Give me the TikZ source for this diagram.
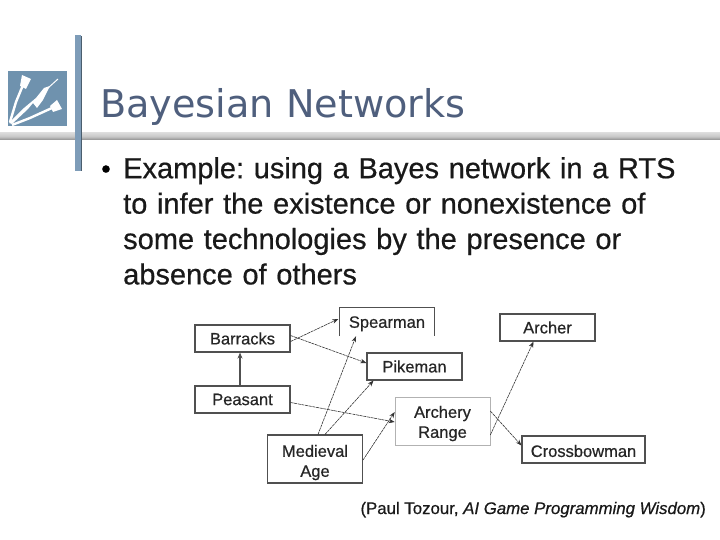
\documentclass[tikz,border=0pt]{standalone}
\usepackage{fontspec}
\setmainfont{Liberation Sans}[RawFeature={embolden=0.6}]
\newfontfamily\titlefont{DejaVu Sans}
\usetikzlibrary{arrows.meta,calc}
\definecolor{steel}{HTML}{6F92AE}
\definecolor{barblue}{HTML}{7E9CB8}
\definecolor{titleblue}{HTML}{4F5F7D}
\definecolor{boxline}{HTML}{505050}
\tikzset{
  netbox/.style={draw=boxline,line width=1.1pt,fill=white,minimum width=95pt,minimum height=27pt,inner sep=0pt,align=center,font=\fontsize{16.5}{20}\selectfont,text=black!85},
  netlink/.style={-{Stealth[length=6pt,width=4.5pt]},line width=0.6pt,black!80,dash pattern=on 3pt off 0.7pt},
  solidlink/.style={-{Stealth[length=6pt,width=5pt]},line width=1.5pt,boxline},
}
\frenchspacing
\begin{document}
\begin{tikzpicture}[x=1pt,y=-1pt]
\useasboundingbox (0,0) rectangle (720,540);
% horizontal bar
\shade[top color=black!15,bottom color=black!45,middle color=black!22] (0,133) rectangle (720,140);
% logo
\fill[steel] (8,71) rectangle (67,126);
\fill[white] (22,75) -- (31,79) -- (26,89) -- (20,86) -- cycle;
\draw[white,line width=2.4pt] (23,85) -- (16,102) -- (10,122);
\draw[white,line width=1pt] (58,79) -- (48,88);
\fill[white] (50,86) -- (44,88) -- (36,98) -- (24,108) -- (9,123) -- (12,124) -- (28,109) -- (33,103) -- (37,108) -- (43,100) -- cycle;
\fill[white] (57,100) -- (62,109) -- (53,112) -- (50,106) -- cycle;
\draw[white,line width=2.4pt] (52,108) -- (30,118) -- (12,125);
% vertical bar
\fill[barblue] (75,35) rectangle (81,171);
\draw[barblue!60!black,line width=0.8pt] (81,36) -- (81,171);
% title
\node[anchor=base west,inner sep=0pt,text=titleblue,font=\titlefont\fontsize{38.2}{39}\selectfont] (title) at (100,118) {Bayesian Networks};
% bullet and body
\node[anchor=base,inner sep=0pt,font=\fontsize{27}{27}\selectfont] (bullet) at (106,178) {•};
\node[anchor=north west,inner sep=0pt,text width=590pt,align=left,font=\fontsize{29}{35.4}\selectfont,text=black!90] (body) at (123,157) {Example: using a Bayes network in a RTS\\to infer the existence or nonexistence of\\some technologies by the presence or\\absence of others};
% nodes
\node[netbox] (barracks) at (242.5,338.5) {Barracks};
\node[netbox] (peasant) at (242.5,399.5) {Peasant};
\node[minimum width=95pt,minimum height=28pt,inner sep=0pt,font=\fontsize{16.5}{20}\selectfont,text=black!85] (spearman) at (387,322) {\rule{0pt}{15pt}Spearman};
\draw[boxline,line width=1.1pt] (spearman.south west) -- (spearman.north west) -- (spearman.north east) -- (spearman.south east);
\node[netbox] (pikeman) at (414.5,366.5) {Pikeman};
\node[netbox,draw=black!30,line width=0.6pt,minimum height=48pt] (range) at (442.5,421) {\rule{0pt}{17pt}Archery\\Range};
\node[netbox,minimum height=48pt] (medieval) at (315,459) {\rule{0pt}{19pt}Medieval\\Age};
\node[netbox] (archer) at (547.5,327.5) {Archer};
\node[netbox,minimum width=123pt] (crossbow) at (583.5,449.5) {\rule{0pt}{15pt}Crossbowman};
% connectors
\draw[solidlink] ([xshift=-2.5pt]peasant.north) -- ([xshift=-2.5pt]barracks.south);
\draw[netlink] ([yshift=-3pt]barracks.east) -- ([yshift=3pt,xshift=-1pt]spearman.west);
\draw[netlink] ([yshift=3pt]barracks.east) -- ([yshift=3.5pt]pikeman.west);
\draw[netlink] ([yshift=-3pt]peasant.east) -- ([yshift=-1pt]range.west);
\draw[netlink] ([xshift=3pt]medieval.north) -- ([xshift=-31pt]spearman.south);
\draw[netlink] ([xshift=10pt]medieval.north) -- ([xshift=-41pt]pikeman.south);
\draw[netlink] ([yshift=-1pt]medieval.east) -- ([yshift=9pt]range.west);
\draw[netlink] ([yshift=-14pt]range.east) -- ([xshift=-14pt]archer.south);
\draw[netlink] ([yshift=10pt]range.east) -- ([yshift=4pt]crossbow.west);
% citation
\node[anchor=base east,inner sep=0pt,font=\fontsize{16.8}{20}\selectfont,text=black!90] (cite) at (706,514) {(Paul Tozour, \textit{AI Game Programming Wisdom})};
\end{tikzpicture}
\end{document}
